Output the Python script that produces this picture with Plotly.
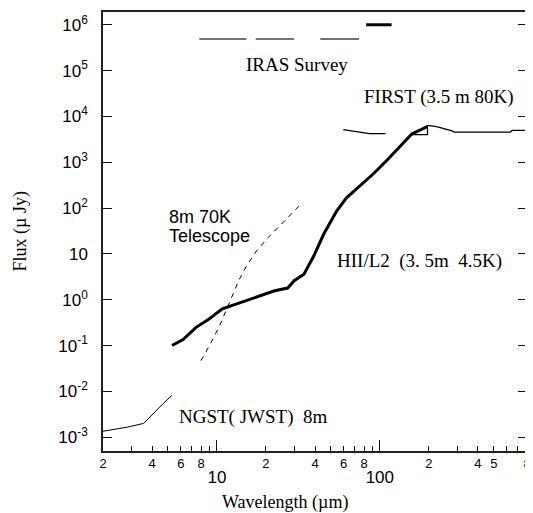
import math
import plotly.graph_objects as go

# ---------------- data ----------------
# HII/L2 (3.5 m, 4.5 K) sensitivity curve
hii_x = [5.3, 6.2, 7.45, 8.95, 10.8, 13.0, 17.1, 22.6, 27.2, 29.8, 34.2, 39.3,
         45.2, 54.3, 62.4, 71.6, 90.3, 114, 137, 157, 176, 196]
hii_y = [0.10, 0.135, 0.25, 0.38, 0.63, 0.80, 1.12, 1.57, 1.8, 2.6, 3.6, 9.0,
         26.8, 86, 167, 255, 540, 1240, 2430, 4120, 5000, 6070]

# small triangle at the end of the HII/L2 curve
tri_x = [154, 196, 196, 154]
tri_y = [4000, 4000, 6070, 4000]

# NGST (JWST) 8 m
ngst_x = [2.0, 2.8, 3.55, 4.07, 4.68, 5.3]
ngst_y = [1.35e-3, 1.65e-3, 2.0e-3, 3.3e-3, 5.4e-3, 8.2e-3]

# 8 m 70 K telescope (dashed)
tel_x = [7.97, 8.35, 10.3, 12.1, 13.6, 15.2, 17.5, 20.6, 24.7, 31.9]
tel_y = [0.047, 0.061, 0.25, 0.95, 2.6, 5.5, 11.6, 22.6, 44, 110]

# FIRST (3.5 m 80 K)
first_x = [59.6, 71.6, 86.2, 108.5, None, 196, 223, 274, 287, 631, 650, 800]
first_y = [5140, 4720, 4200, 4200, None, 6370, 6000, 4890, 4560, 4560, 4960, 4960]

# IRAS survey bands
iras_x = [7.8, 15.2, None, 17.3, 29.8, None, 43.1, 74.5]
iras_y = [4.9e5, 4.9e5, None, 4.9e5, 4.9e5, None, 4.9e5, 4.9e5]
iras_thick_x = [82.4, 118]
iras_thick_y = [1.0e6, 1.0e6]

# axis ticks
x_minor_vals = [2, 3, 4, 5, 6, 7, 8, 9, 20, 30, 40, 50, 60, 70, 80, 90,
                200, 300, 400, 500, 600, 700, 800]
x_minor_text = ["2", "", "4", "", "6", "", "8", "", "2", "", "4", "", "6", "", "8", "",
                "2", "", "4", "5", "", "", "8"]
x_major_vals = [10, 100]
x_major_text = ["10", "100"]
y_vals = [1e-3, 1e-2, 1e-1, 1e0, 1e1, 1e2, 1e3, 1e4, 1e5, 1e6]
y_text = ["10<sup>-3</sup>", "10<sup>-2</sup>", "10<sup>-1</sup>", "10<sup>0</sup>", "10",
          "10<sup>2</sup>", "10<sup>3</sup>", "10<sup>4</sup>", "10<sup>5</sup>", "10<sup>6</sup>"]

x_range = [2, 800]
y_range = [5.0e-4, 1.9e6]

SERIF = "Liberation Serif, Times New Roman, serif"
SANS = "Liberation Sans, Arial, sans-serif"

fig = go.Figure()

line_common = dict(mode="lines", showlegend=False, hoverinfo="skip")
fig.add_trace(go.Scatter(x=ngst_x, y=ngst_y, line=dict(color="black", width=1), **line_common))
fig.add_trace(go.Scatter(x=tel_x, y=tel_y, line=dict(color="black", width=1, dash="5px,5px"), **line_common))
fig.add_trace(go.Scatter(x=first_x, y=first_y, line=dict(color="black", width=1.3), **line_common))
fig.add_trace(go.Scatter(x=tri_x, y=tri_y, line=dict(color="black", width=1.3), **line_common))
fig.add_trace(go.Scatter(x=hii_x, y=hii_y, line=dict(color="black", width=3), **line_common))
fig.add_trace(go.Scatter(x=iras_x, y=iras_y, line=dict(color="#444", width=1.5), **line_common))
# drawn on the overlaid x-axis (same range) so that axis gets rendered
fig.add_trace(go.Scatter(x=iras_thick_x, y=iras_thick_y, xaxis="x2", yaxis="y",
                         line=dict(color="black", width=3), **line_common))

xr = [math.log10(v) for v in x_range]
yr = [math.log10(v) for v in y_range]

TICKC = "#111"

fig.update_layout(
    width=525, height=505,
    margin=dict(l=95, r=2, t=2, b=62),
    paper_bgcolor="white", plot_bgcolor="white",
    showlegend=False,
    xaxis=dict(type="log", range=xr, tickmode="array", tickvals=x_minor_vals, ticktext=x_minor_text,
               ticks="inside", ticklen=5, tickwidth=1.3, tickcolor=TICKC,
               showline=True, linecolor="#222", linewidth=1.5, mirror=True,
               showgrid=False, zeroline=False,
               tickfont=dict(family=SANS, size=13, color="black"), ticklabelstandoff=0),
    xaxis2=dict(type="log", range=xr, overlaying="x", anchor="y", side="bottom",
                tickmode="array", tickvals=x_major_vals, ticktext=x_major_text,
                ticks="inside", ticklen=11, tickwidth=1.3, tickcolor=TICKC,
                showline=False, showgrid=False, zeroline=False,
                tickfont=dict(family=SANS, size=17, color="black"), ticklabelstandoff=14),
    yaxis=dict(type="log", range=yr, tickmode="array", tickvals=y_vals, ticktext=y_text,
               ticks="inside", ticklen=9, tickwidth=1.3, tickcolor=TICKC,
               showline=True, linecolor="#222", linewidth=1.5, mirror="ticks",
               showgrid=False, zeroline=False,
               tickfont=dict(family=SANS, size=17, color="black"), ticklabelstandoff=10),
)

ann = [
    dict(text="IRAS Survey", x=0.457, y=0.880, xanchor="center", yanchor="middle", size=19, fam=SERIF),
    dict(text="FIRST (3.5 m 80K)", x=0.611, y=0.807, xanchor="left", yanchor="middle", size=19, fam=SERIF),
    dict(text="HII/L2\u00a0\u00a0(3. 5m\u00a0\u00a04.5K)", x=0.546, y=0.433, xanchor="left", yanchor="middle", size=19, fam=SERIF),
    dict(text="8m 70K", x=0.152, y=0.533, xanchor="left", yanchor="middle", size=18, fam=SANS),
    dict(text="Telescope", x=0.152, y=0.490, xanchor="left", yanchor="middle", size=18, fam=SANS),
    dict(text="NGST( JWST)\u00a0\u00a08m", x=0.175, y=0.077, xanchor="left", yanchor="middle", size=19, fam=SERIF),
    dict(text="Wavelength (\u00b5m)", x=0.429, y=-0.118, xanchor="center", yanchor="middle", size=18, fam=SERIF),
]
for a in ann:
    fig.add_annotation(text=a["text"], x=a["x"], y=a["y"], xref="paper", yref="paper",
                       xanchor=a["xanchor"], yanchor=a["yanchor"], showarrow=False,
                       font=dict(family=a["fam"], size=a["size"], color="black"))

fig.add_annotation(text="Flux (\u00b5 Jy)", x=-0.1936, y=0.5, xref="paper", yref="paper",
                   xanchor="center", yanchor="middle", textangle=-90, showarrow=False,
                   font=dict(family=SERIF, size=18, color="black"))

fig.write_html("out.html")
